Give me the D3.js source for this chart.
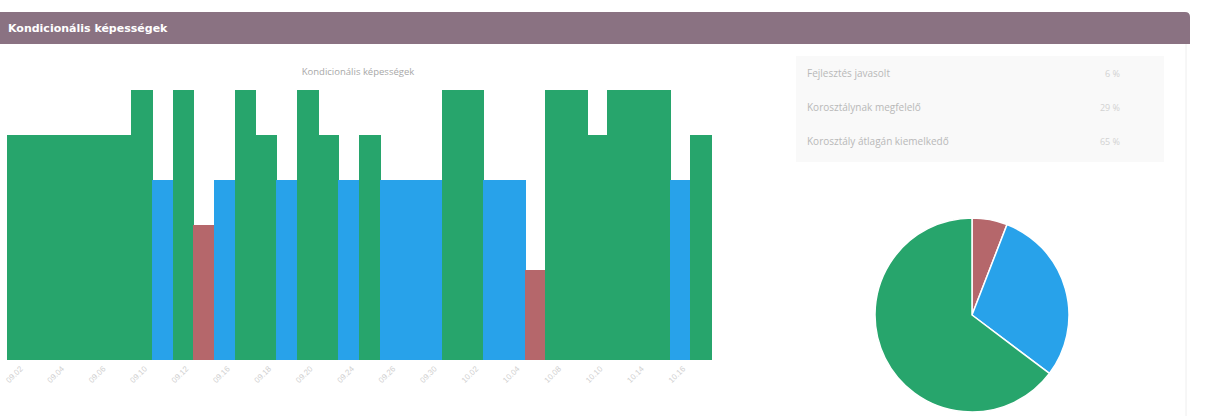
<!DOCTYPE html>
<html>
<head>
<meta charset="utf-8">
<script src="https://cdn.jsdelivr.net/npm/d3@7"></script>
<style>
  html, body { margin: 0; padding: 0; background: #fff; }
  svg { display: block; font-family: "Open Sans", "DejaVu Sans", sans-serif; }
</style>
</head>
<body>
<svg id="chart" width="1207" height="416"></svg>
<script>
// Test dates (one bar per test)
const categories = [
  "09.02", "09.03", "09.04", "09.05", "09.06", "09.09", "09.10", "09.11", "09.12", "09.13",
  "09.16", "09.17", "09.18", "09.19", "09.20", "09.23", "09.24", "09.25", "09.26", "09.27",
  "09.30", "10.01", "10.02", "10.03", "10.04", "10.07", "10.08", "10.09", "10.10", "10.11",
  "10.14", "10.15", "10.16", "10.17"
];
// Score of each test (2-3: needs work, 4: age-appropriate, 5-6: above average)
const scores = [
  5, 5, 5, 5, 5, 5, 6, 4, 6, 3,
  4, 6, 5, 4, 6, 5, 4, 5, 4, 4,
  4, 6, 6, 4, 4, 2, 6, 6, 5, 6,
  6, 6, 4, 5
];
const levelNames = ["Fejlesztés javasolt", "Korosztálynak megfelelő", "Korosztály átlagán kiemelkedő"];
const levelColors = ["#b5676b", "#28a2ea", "#27a56c"];
const levelShares = ["6 %", "29 %", "65 %"];
const yDomain = [0, 6];

const levelOf = v => v <= 3 ? 0 : (v === 4 ? 1 : 2);

const svg = d3.select("#chart");

// Header bar
svg.append("path")
  .attr("d", "M0,12 H1185 Q1190,12 1190,17 V44 H0 Z")
  .attr("fill", "#8a7282");
svg.append("text")
  .attr("x", 8).attr("y", 32)
  .attr("fill", "#fff")
  .attr("font-size", 11).attr("font-weight", "bold")
  .attr("font-family", "Verdana, 'DejaVu Sans', sans-serif")
  .text("Kondicionális képességek");

// Card right border
svg.append("line")
  .attr("x1", 1186).attr("x2", 1186).attr("y1", 44).attr("y2", 416)
  .attr("stroke", "#eeeeee");

// Bar chart
const x = d3.scaleBand().domain(categories).range([7, 711]).padding(0);
const y = d3.scaleLinear().domain(yDomain).range([360, 90]);

svg.append("text")
  .attr("x", 358).attr("y", 75)
  .attr("text-anchor", "middle")
  .attr("fill", "#a8a8a8").attr("font-size", 9.5)
  .text("Kondicionális képességek");

svg.append("g").attr("shape-rendering", "crispEdges").selectAll("rect")
  .data(categories.map((c, i) => ({ c, v: scores[i] })))
  .join("rect")
  .attr("x", d => x(d.c))
  .attr("y", d => y(d.v))
  .attr("width", x.bandwidth() + 1)
  .attr("height", d => y(0) - y(d.v))
  .attr("fill", d => levelColors[levelOf(d.v)]);

const xAxis = d3.axisBottom(x)
  .tickValues(categories.filter((c, i) => i % 2 === 0))
  .tickSize(0).tickPadding(6);
const gx = svg.append("g").attr("transform", "translate(0,360)").call(xAxis);
gx.select(".domain").remove();
gx.selectAll("text")
  .attr("fill", "#d0d0d0").attr("font-size", 8)
  .attr("text-anchor", "end")
  .attr("transform", "rotate(-45)")
  .attr("dx", "-0.3em").attr("dy", "0.6em");

// Legend table
const tbl = svg.append("g");
tbl.append("rect")
  .attr("x", 796).attr("y", 56).attr("width", 368).attr("height", 106)
  .attr("fill", "#f9f9f9");
const rowY = d3.scalePoint().domain(levelNames).range([74, 142]);
levelNames.forEach((name, i) => {
  tbl.append("text")
    .attr("x", 807).attr("y", rowY(name) + 3)
    .attr("fill", "#b8b8b8").attr("font-size", 10)
    .text(name);
  tbl.append("text")
    .attr("x", 1120).attr("y", rowY(name) + 3)
    .attr("text-anchor", "end")
    .attr("fill", "#d2d2d2").attr("font-size", 9)
    .text(levelShares[i]);
});

// Pie of level distribution
const counts = levelNames.map((n, i) => scores.filter(v => levelOf(v) === i).length);
const pie = d3.pie().sort(null).value(d => d)(counts);
const arc = d3.arc().innerRadius(0).outerRadius(97);
svg.append("g").attr("transform", "translate(972,315)")
  .selectAll("path")
  .data(pie)
  .join("path")
  .attr("d", arc)
  .attr("fill", (d, i) => levelColors[i])
  .attr("stroke", "#fff").attr("stroke-width", 1.5);
</script>
</body>
</html>
